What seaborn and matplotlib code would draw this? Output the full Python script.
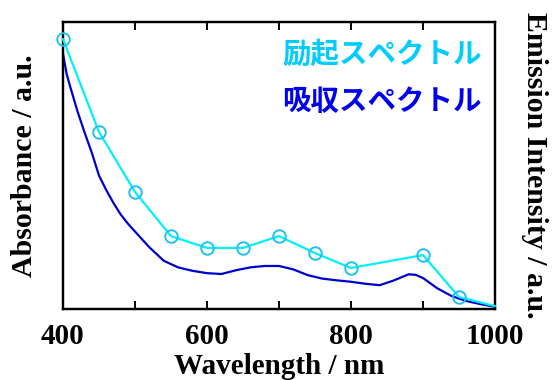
import pandas as pd
import matplotlib
matplotlib.use('Agg')
import matplotlib.pyplot as plt
import seaborn as sns

# absorption spectrum (blue line)
abs_wl = [400, 405, 410, 420, 430, 440, 450, 460, 470, 480, 490, 500, 520, 540, 560, 580,
          600, 620, 640, 660, 680, 700, 720, 740, 760, 780, 800, 820, 840, 860, 880, 890,
          900, 920, 940, 960, 980, 1000]
abs_val = [0.89, 0.82, 0.775, 0.69, 0.615, 0.545, 0.465, 0.415, 0.37, 0.33, 0.298, 0.27,
           0.215, 0.168, 0.145, 0.133, 0.125, 0.122, 0.135, 0.145, 0.150, 0.150, 0.138,
           0.118, 0.106, 0.100, 0.095, 0.088, 0.083, 0.100, 0.121, 0.119, 0.108, 0.072,
           0.045, 0.028, 0.017, 0.008]

# excitation spectrum (cyan line with circles)
exc_wl = [400, 450, 500, 550, 600, 650, 700, 750, 800, 900, 950, 1000]
exc_val = [0.941, 0.617, 0.408, 0.254, 0.213, 0.213, 0.254, 0.195, 0.143, 0.188, 0.042, 0.01]

legend_labels = ['励起スペクトル', '吸収スペクトル']
xticks = [400, 500, 600, 700, 800, 900, 1000]
xticklabels = ['400', '', '600', '', '800', '', '1000']

sns.set_style('ticks')
plt.rcParams['font.family'] = ['Liberation Serif', 'DejaVu Serif']
plt.rcParams['font.weight'] = 'bold'
plt.rcParams['text.color'] = 'black'
plt.rcParams['axes.labelcolor'] = 'black'
plt.rcParams['xtick.color'] = 'black'

abs_df = pd.DataFrame({'wl': abs_wl, 'val': abs_val})
exc_df = pd.DataFrame({'wl': exc_wl, 'val': exc_val})

fig = plt.figure(figsize=(5.52, 3.80), dpi=100)
ax = fig.add_axes([0.1141, 0.1868, 0.7826, 0.7552])
ax2 = ax.twinx()

sns.lineplot(data=abs_df, x='wl', y='val', ax=ax, color='#0000CC', linewidth=1.6)
sns.lineplot(data=exc_df, x='wl', y='val', ax=ax2, color='#00F0F8', linewidth=1.6,
             marker='o', markersize=9, markerfacecolor='none',
             markeredgecolor='#22C0F0', markeredgewidth=1.4,
             markevery=list(range(len(exc_wl) - 1)), clip_on=False, zorder=3)

for a in (ax, ax2):
    a.set_xlim(400, 1000)
    a.set_ylim(0, 1)
    a.set_yticks([])
    for s in a.spines.values():
        s.set_linewidth(1.6)
        s.set_color('black')

ax.set_xticks(xticks)
ax.set_xticklabels(xticklabels, fontsize=21, fontweight='bold')
ax.tick_params(axis='x', direction='in', length=6, width=1.4, top=True, pad=10)
ax2.tick_params(axis='x', direction='in', length=6, width=1.4, top=True)

ax.set_xlabel('Wavelength / nm', fontsize=21, fontweight='bold', labelpad=2)
ax.set_ylabel('Absorbance / a.u.', fontsize=21.5, fontweight='bold', labelpad=18)
ax2.set_ylabel('Emission Intensity / a.u.', fontsize=21.5, fontweight='bold',
               rotation=270, labelpad=38)

jp = ['Noto Sans CJK JP', 'DejaVu Sans']
ax.text(0.97, 0.885, legend_labels[0], transform=ax.transAxes, ha='right', va='center',
        fontsize=20.5, fontweight='bold', family=jp, color='#00CCFF')
ax.text(0.97, 0.72, legend_labels[1], transform=ax.transAxes, ha='right', va='center',
        fontsize=20.5, fontweight='bold', family=jp, color='#0000EE')

fig.savefig('out.png', dpi=100)
